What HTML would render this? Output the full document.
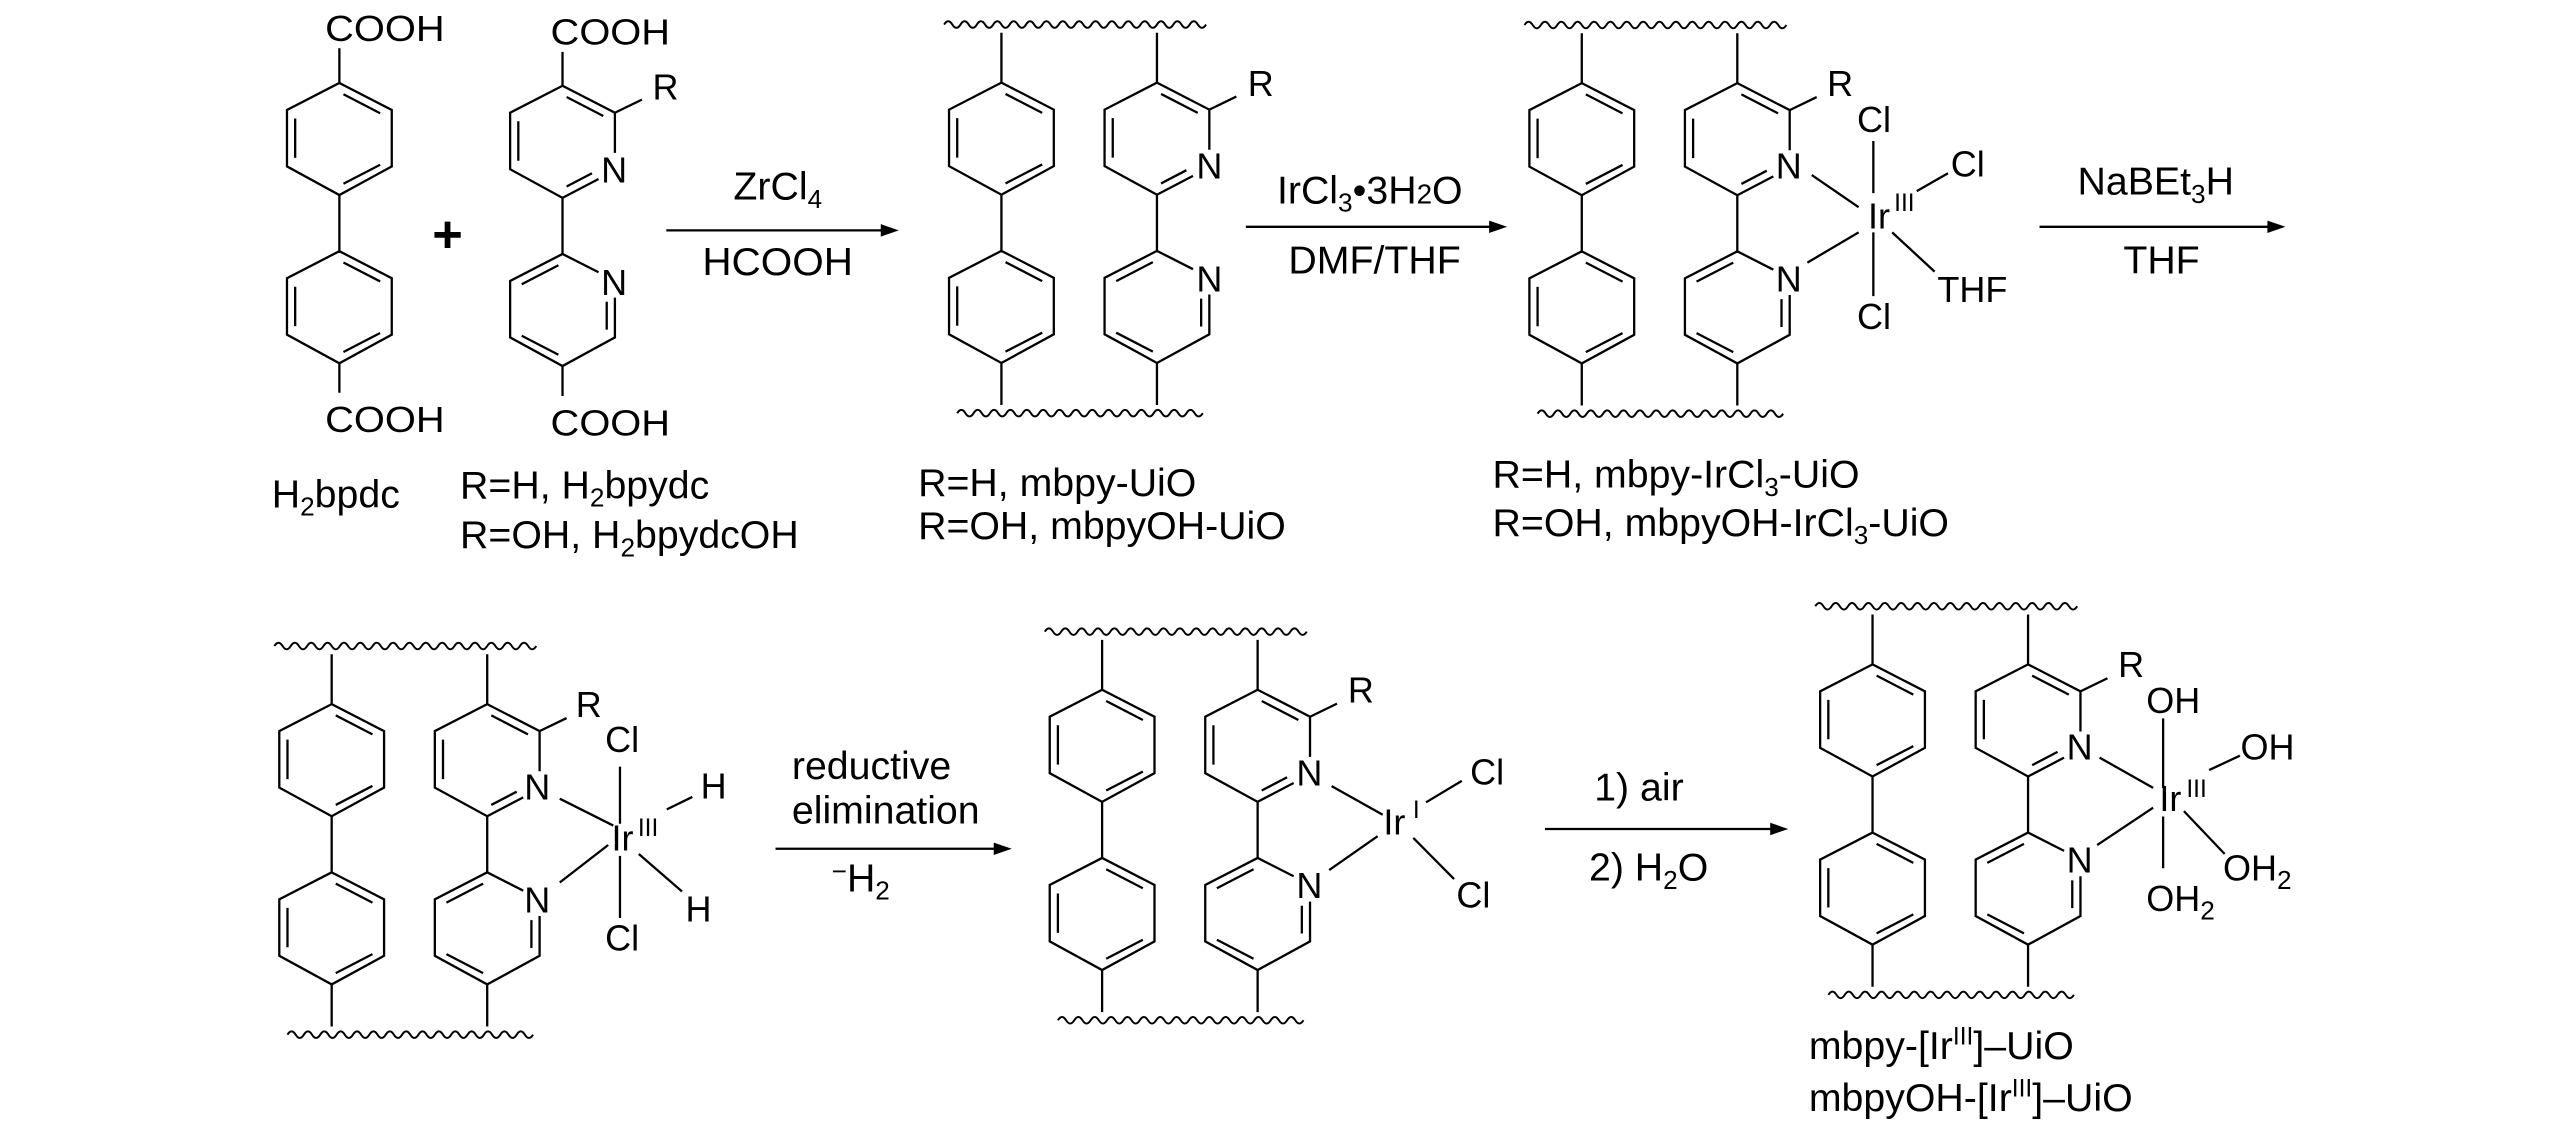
<!DOCTYPE html>
<html><head><meta charset="utf-8"><style>
html,body{margin:0;padding:0;background:#fff;}
svg{display:block;}
text{font-family:"Liberation Sans",Arial,sans-serif;fill:#000;}
</style></head><body>
<svg width="2567" height="1134" viewBox="0 0 1568 693" preserveAspectRatio="none" xmlns="http://www.w3.org/2000/svg">
<defs>
<g id="bp" fill="none" stroke="#000" stroke-width="1.4">
<path d="M0,0 L32,16.5 L32,51 L0,68.5 L-32,51 L-32,16.5 Z"/>
<path d="M2.5,6.9 L24.9,18.5 M-27,21.7 L-27,45.8 M2.5,61.6 L24.9,50 M0,68.5 L0,102.8"/>
<path d="M0,102.8 L32,119.3 L32,153.8 L0,171.3 L-32,153.8 L-32,119.3 Z"/>
<path d="M2.5,109.7 L24.9,121.3 M-27,124.5 L-27,148.6 M2.5,164.4 L24.9,152.8"/>
</g>
<g id="py" fill="none" stroke="#000" stroke-width="1.4">
<path d="M32,41 L32,16.5 L0,0 L-32,16.5 L-32,51 L0,68.5 L22,57"/>
<path d="M2.5,6.9 L24.9,18.5 M-27,21.7 L-27,45.8 M2.5,61.6 L18,53.5 M32,16.5 L48.5,8.5 M0,68.5 L0,102.8"/>
<path d="M22,114 L0,102.8 L-32,119.3 L-32,153.8 L0,171.3 L32,153.8 L32,129.5"/>
<path d="M-2.5,109.7 L-24.9,121.3 M27,132 L27,149 M-2.5,164.4 L-24.9,152.8"/>
</g>
<g id="fw">
<use href="#bp"/>
<use href="#py" x="95"/>
<path fill="none" stroke="#000" stroke-width="1.4" d="M0,0 L0,-30.5 M95,0 L95,-30.5 M0,171.3 L0,197 M95,171.3 L95,197"/>
<path fill="none" stroke="#000" stroke-width="1.2" d="M-35,-35.5 q2.5,-4 5,0 t5,0 t5,0 t5,0 t5,0 t5,0 t5,0 t5,0 t5,0 t5,0 t5,0 t5,0 t5,0 t5,0 t5,0 t5,0 t5,0 t5,0 t5,0 t5,0 t5,0 t5,0 t5,0 t5,0 t5,0 t5,0 t5,0 t5,0 t5,0 t5,0 t5,0 t5,0"/>
<path fill="none" stroke="#000" stroke-width="1.2" d="M-27,202 q2.5,-4 5,0 t5,0 t5,0 t5,0 t5,0 t5,0 t5,0 t5,0 t5,0 t5,0 t5,0 t5,0 t5,0 t5,0 t5,0 t5,0 t5,0 t5,0 t5,0 t5,0 t5,0 t5,0 t5,0 t5,0 t5,0 t5,0 t5,0 t5,0 t5,0 t5,0"/>
</g>
</defs>

<!-- Structure A -->
<use href="#bp" x="207.3" y="50.7"/>
<use href="#py" x="343.6" y="52.4"/>
<path fill="none" stroke="#000" stroke-width="1.4" d="M207.3,50.7 L207.3,29.5 M207.3,222 L207.3,240 M343.6,52.4 L343.6,31.7 M343.6,223.7 L343.6,242"/>
<g font-size="22">
<text x="198.6" y="25" textLength="73" lengthAdjust="spacingAndGlyphs">COOH</text>
<text x="336.3" y="27.3" textLength="73" lengthAdjust="spacingAndGlyphs">COOH</text>
<text x="198.6" y="264" textLength="73" lengthAdjust="spacingAndGlyphs">COOH</text>
<text x="336.3" y="266" textLength="73" lengthAdjust="spacingAndGlyphs">COOH</text>
<text x="375.1" y="111.4" text-anchor="middle">N</text>
<text x="375.1" y="180.4" text-anchor="middle">N</text>
<text x="398.6" y="60.9">R</text>
<text x="264" y="154" font-size="32" font-weight="bold">+</text>
</g>

<!-- Arrow 1 -->
<path stroke="#000" stroke-width="1.4" d="M407,140.8 L542,140.8"/>
<polygon points="549,140.8 538,137 538,144.6"/>
<g font-size="24">
<text x="448" y="122">ZrCl<tspan font-size="16" dy="5">4</tspan></text>
<text x="429" y="168" textLength="92" lengthAdjust="spacingAndGlyphs">HCOOH</text>
<text x="166" y="310">H<tspan font-size="16" dy="5">2</tspan><tspan dy="-5">bpdc</tspan></text>
<text x="281" y="304.6">R=H, H<tspan font-size="16" dy="5">2</tspan><tspan dy="-5">bpydc</tspan></text>
<text x="281" y="335">R=OH, H<tspan font-size="16" dy="5">2</tspan><tspan dy="-5">bpydcOH</tspan></text>
</g>

<!-- Structure B -->
<use href="#fw" transform="translate(611.7,50.5)"/>
<g font-size="22">
<text x="738.7" y="109.2" text-anchor="middle">N</text>
<text x="738.7" y="178.2" text-anchor="middle">N</text>
<text x="762.2" y="58.7">R</text>
</g>
<g font-size="24">
<text x="560.8" y="303">R=H, mbpy-UiO</text>
<text x="560.8" y="329.4">R=OH, mbpyOH-UiO</text>
</g>

<!-- Arrow 2 -->
<path stroke="#000" stroke-width="1.4" d="M761,138.6 L914,138.6"/>
<polygon points="920.6,138.6 909.6,134.8 909.6,142.4"/>
<g font-size="24">
<text x="780" y="124.4">IrCl<tspan font-size="16" dy="5">3</tspan><tspan dy="-5">•3H</tspan><tspan font-size="17">2</tspan><tspan>O</tspan></text>
<text x="787" y="167">DMF/THF</text>
</g>

<!-- Structure C -->
<use href="#fw" transform="translate(966.2,50.8)"/>
<path fill="none" stroke="#000" stroke-width="1.4" d="M1106.7,107 L1135.3,126.6 M1104,160.5 L1135.3,142 M1144.3,86.2 L1144.3,118 M1144.3,142 L1144.3,181 M1170.8,116.8 L1189.9,105.9 M1155.8,142 L1181.7,166"/>
<g font-size="22">
<text x="1092.6" y="109.2" text-anchor="middle">N</text>
<text x="1092.6" y="178.2" text-anchor="middle">N</text>
<text x="1116.1" y="58.7">R</text>
<text x="1134.3" y="80.8">Cl</text>
<text x="1141" y="139.7">Ir</text>
<text x="1157" y="129" font-size="15">III</text>
<text x="1191.6" y="108">Cl</text>
<text x="1183.4" y="184.5">THF</text>
<text x="1134.3" y="201">Cl</text>
</g>
<g font-size="24">
<text x="911.7" y="298">R=H, mbpy-IrCl<tspan font-size="16" dy="5">3</tspan><tspan dy="-5">-UiO</tspan></text>
<text x="911.7" y="327.5">R=OH, mbpyOH-IrCl<tspan font-size="16" dy="5">3</tspan><tspan dy="-5">-UiO</tspan></text>
</g>

<!-- Arrow 3 -->
<path stroke="#000" stroke-width="1.4" d="M1245.8,138.6 L1389,138.6"/>
<polygon points="1396,138.6 1385,134.8 1385,142.4"/>
<g font-size="24">
<text x="1269" y="119">NaBEt<tspan font-size="16" dy="5">3</tspan><tspan dy="-5">H</tspan></text>
<text x="1297" y="167">THF</text>
</g>

<!-- Structure D -->
<use href="#fw" transform="translate(202.6,430.3)"/>
<path fill="none" stroke="#000" stroke-width="1.4" d="M341.9,488.1 L374.6,504.5 M341.9,539.3 L371.5,516.4 M378.7,468.5 L378.7,503.4 M378.7,523 L378.7,561 M407.3,494.6 L422.9,487 M390.2,521.9 L416.6,544.8"/>
<g font-size="22">
<text x="328.2" y="488.6" text-anchor="middle">N</text>
<text x="328.2" y="557.6" text-anchor="middle">N</text>
<text x="351.7" y="438.1">R</text>
<text x="369.6" y="459.7">Cl</text>
<text x="428" y="488">H</text>
<text x="373.5" y="519.7">Ir</text>
<text x="389.6" y="511" font-size="15">III</text>
<text x="418.7" y="563">H</text>
<text x="369.6" y="580.8">Cl</text>
</g>

<!-- Arrow 4 -->
<path stroke="#000" stroke-width="1.4" d="M473.7,518.7 L611,518.7"/>
<polygon points="618,518.7 607,514.9 607,522.5"/>
<g font-size="24">
<text x="483.7" y="476">reductive</text>
<text x="483.7" y="503.4">elimination</text>
<text x="508" y="544.8"><tspan font-size="16" dy="-7">−</tspan><tspan dy="7">H</tspan><tspan font-size="16" dy="5">2</tspan></text>
</g>

<!-- Structure E -->
<use href="#fw" transform="translate(673.2,421.5)"/>
<path fill="none" stroke="#000" stroke-width="1.4" d="M813.4,480.4 L844.6,497.9 M811.9,531.7 L841.5,511 M871.1,490.3 L892.9,477.2 M863.3,512.1 L888.2,537.2"/>
<g font-size="22">
<text x="799.8" y="479.9" text-anchor="middle">N</text>
<text x="799.8" y="548.9" text-anchor="middle">N</text>
<text x="823.3" y="429.4">R</text>
<text x="845" y="509.9">Ir</text>
<text x="863" y="500" font-size="15">I</text>
<text x="898" y="479.4">Cl</text>
<text x="889.6" y="554.7">Cl</text>
</g>

<!-- Arrow 5 -->
<path stroke="#000" stroke-width="1.4" d="M943.7,506.6 L1085,506.6"/>
<polygon points="1092.3,506.6 1081.3,502.8 1081.3,510.4"/>
<g font-size="24">
<text x="973.8" y="489.2">1) air</text>
<text x="970.6" y="538.2">2) H<tspan font-size="16" dy="5">2</tspan><tspan dy="-5">O</tspan></text>
</g>

<!-- Structure F -->
<use href="#fw" transform="translate(1143.8,406)"/>
<path fill="none" stroke="#000" stroke-width="1.4" d="M1282.5,463 L1315.2,481.5 M1281,516.4 L1315.2,493.6 M1321.3,439 L1321.3,481.5 M1321.3,499 L1321.3,530.6 M1349.4,470.6 L1368.2,461.8 M1334,495.7 L1358.9,521.9"/>
<g font-size="22">
<text x="1270.3" y="464.2" text-anchor="middle">N</text>
<text x="1270.3" y="533.2" text-anchor="middle">N</text>
<text x="1293.8" y="413.7">R</text>
<text x="1311" y="435.7">OH</text>
<text x="1368.6" y="464.1">OH</text>
<text x="1319" y="495.7">Ir</text>
<text x="1335.5" y="487" font-size="15">III</text>
<text x="1357.9" y="538.2">OH<tspan font-size="16" dy="5">2</tspan></text>
<text x="1311" y="556.8">OH<tspan font-size="16" dy="5">2</tspan></text>
</g>
<g font-size="24">
<text x="1104.9" y="647.3">mbpy-[Ir<tspan font-size="15" dy="-9">III</tspan><tspan dy="9">]–UiO</tspan></text>
<text x="1104.9" y="679">mbpyOH-[Ir<tspan font-size="15" dy="-9">III</tspan><tspan dy="9">]–UiO</tspan></text>
</g>
</svg>
</body></html>
